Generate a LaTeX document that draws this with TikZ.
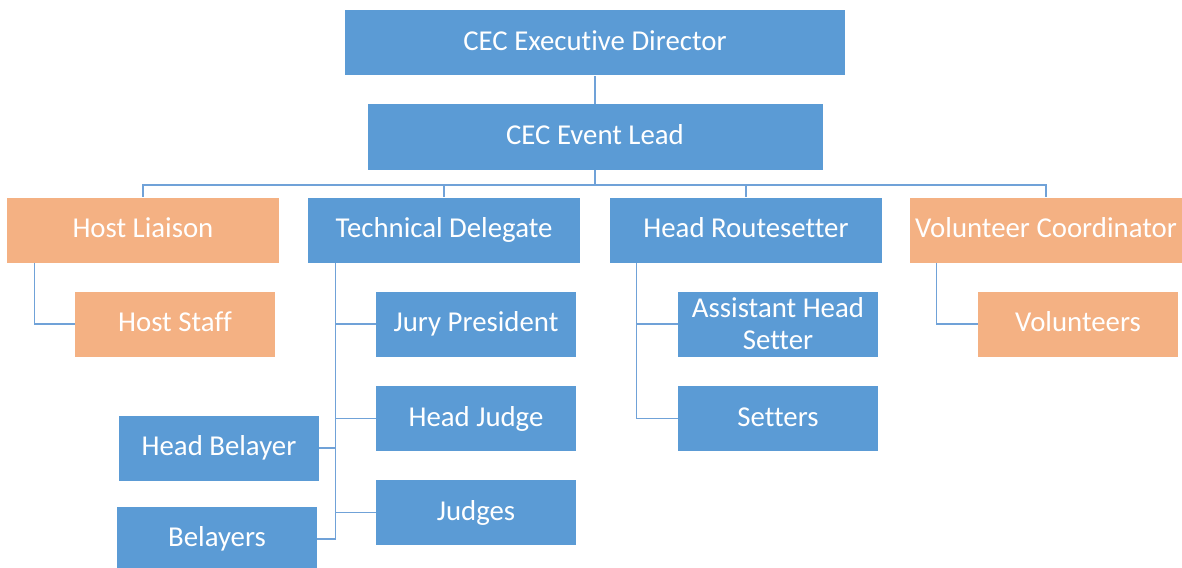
\documentclass[tikz,border=0pt]{standalone}
\usepackage{fontspec}
\setmainfont{Carlito}[Ligatures=NoCommon]
\usetikzlibrary{positioning}
\definecolor{boxblue}{RGB}{91,155,213}
\definecolor{boxorange}{RGB}{244,177,131}
\definecolor{linkblue}{RGB}{112,162,216}

\begin{document}
\begin{tikzpicture}[x=0.5pt,y=-0.5pt,
  role/.style={fill=boxblue,text=white,inner sep=0pt,minimum height=32.5pt,
    text height=2.05ex,text depth=0.45ex,
    align=center,font=\fontsize{14.4}{16}\selectfont},
  host/.style={role,fill=boxorange},
  lane/.style={minimum width=136pt},
  sub/.style={minimum width=100pt},
  link/.style={draw=linkblue,line width=0.7pt}]
\useasboundingbox (0,0) rectangle (1182,567);
% Top of the chart
\node[role,minimum width=250pt] (exec) at (595,43) {CEC Executive Director};
\node[role,minimum width=227.5pt] (lead) at (595,137) {CEC Event Lead};
% The four lanes
\node[host,lane] (liaison) at (143,230) {Host Liaison};
\node[role,lane] (techdel) at (444,230) {Technical Delegate};
\node[role,lane] (routes) at (746,230) {Head Routesetter};
\node[host,lane] (volco) at (1046,230) {Volunteer Coordinator};
% Staff under each lane
\node[host,sub] (hoststaff) at (175,324) {Host Staff};
\node[role,sub] (jury) at (476,324) {Jury President};
\node[role,sub] (headjudge) at (476,418.5) {Head Judge};
\node[role,sub] (judges) at (476,512.5) {Judges};
\node[role,sub] (headbel) at (219,448) {Head Belayer};
\node[role,sub] (belayers) at (217,539) {Belayers};
\node[role,sub,text height=,text depth=] (asst) at (778,324) {Assistant Head\\Setter};
\node[role,sub] (setters) at (778,418.5) {Setters};
\node[host,sub] (volunteers) at (1078,324) {Volunteers};
% Connectors
\draw[link] (exec) -- (lead);
\foreach \n in {liaison,techdel,routes,volco}
  \draw[link] (lead.south) -- ++(0,15) -| (\n.north);
\draw[link] ([xshift=14pt]liaison.south west) |- (hoststaff.west);
\foreach \n in {jury,headjudge,judges}
  \draw[link] ([xshift=14pt]techdel.south west) |- (\n.west);
\foreach \n in {headbel,belayers}
  \draw[link] ([xshift=14pt]techdel.south west) |- (\n.east);
\foreach \n in {asst,setters}
  \draw[link] ([xshift=13.5pt]routes.south west) |- (\n.west);
\draw[link] ([xshift=13.5pt]volco.south west) |- (volunteers.west);
\end{tikzpicture}
\end{document}
